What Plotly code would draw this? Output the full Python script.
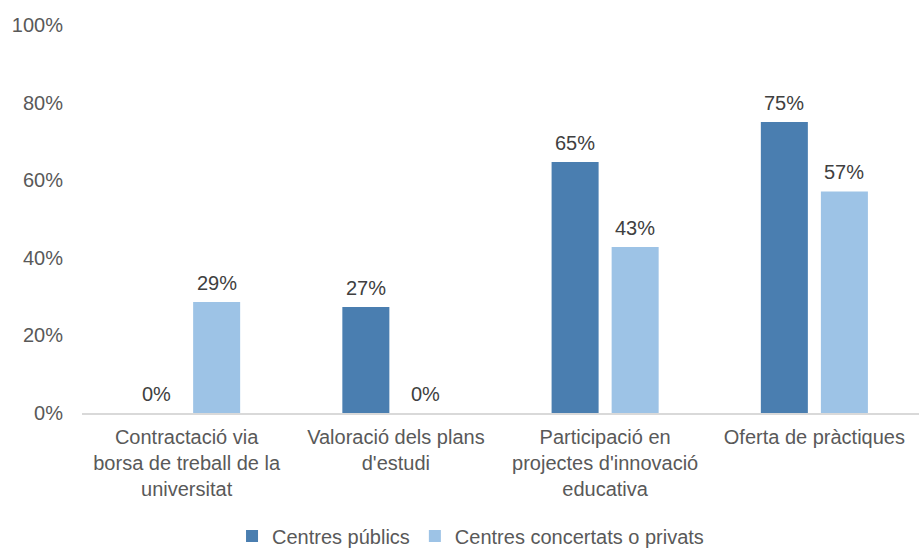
import plotly.graph_objects as go

categories = [
    "Contractació via<br>borsa de treball de la<br>universitat",
    "Valoració dels plans<br>d'estudi",
    "Participació en<br>projectes d'innovació<br>educativa",
    "Oferta de pràctiques",
]
publics = [0.0, 0.273, 0.647, 0.75]
privats = [0.286, 0.0, 0.428, 0.571]
series_names = ["Centres públics", "Centres concertats o privats"]
y_ticks = [0, 0.2, 0.4, 0.6, 0.8, 1.0]

DARK = "#4A7EB0"
LIGHT = "#9DC3E6"
TEXT = "#595959"
FONT = "Liberation Sans, Arial, sans-serif"
FS = 20

fig = go.Figure()
for name, vals, col in [(series_names[0], publics, DARK), (series_names[1], privats, LIGHT)]:
    fig.add_trace(go.Bar(
        x=categories, y=vals, name=name,
        marker=dict(color=col, line=dict(width=0)),
    ))

# value labels above each bar (also shown for zero-height bars)
annotations = []
for vals, shift in [(publics, -30), (privats, 30)]:
    for cat, v in zip(categories, vals):
        annotations.append(dict(
            x=cat, y=v, xref="x", yref="y", text=f"{round(v * 100):.0f}%",
            showarrow=False, xshift=shift, yshift=19, yanchor="middle",
            font=dict(size=FS, color="#404040", family=FONT),
        ))

fig.update_layout(
    width=919, height=548,
    margin=dict(l=82, r=0, t=25, b=135, autoexpand=False),
    paper_bgcolor="white", plot_bgcolor="white",
    font=dict(family=FONT, size=FS, color=TEXT),
    barmode="group", bargap=0.426, bargroupgap=0.217,
    showlegend=True,
    legend=dict(
        orientation="h", x=0.512, xanchor="center", xref="container",
        y=0.022, yanchor="middle", yref="container",
        font=dict(size=FS, color=TEXT), itemwidth=30,
    ),
    annotations=annotations,
)
fig.update_xaxes(
    showline=True, linecolor="#D9D9D9", linewidth=2,
    showgrid=False, ticks="", tickfont=dict(size=FS, color=TEXT),
    range=[-0.5, 3.5], fixedrange=True, automargin=False, ticklabelstandoff=5,
)
fig.update_yaxes(
    range=[0, 1], tickvals=y_ticks, tickformat=".0%",
    showgrid=False, zeroline=False, showline=False, automargin=False,
    tickfont=dict(size=FS, color=TEXT), ticklabelstandoff=18,
)

fig.write_html("out.html")
